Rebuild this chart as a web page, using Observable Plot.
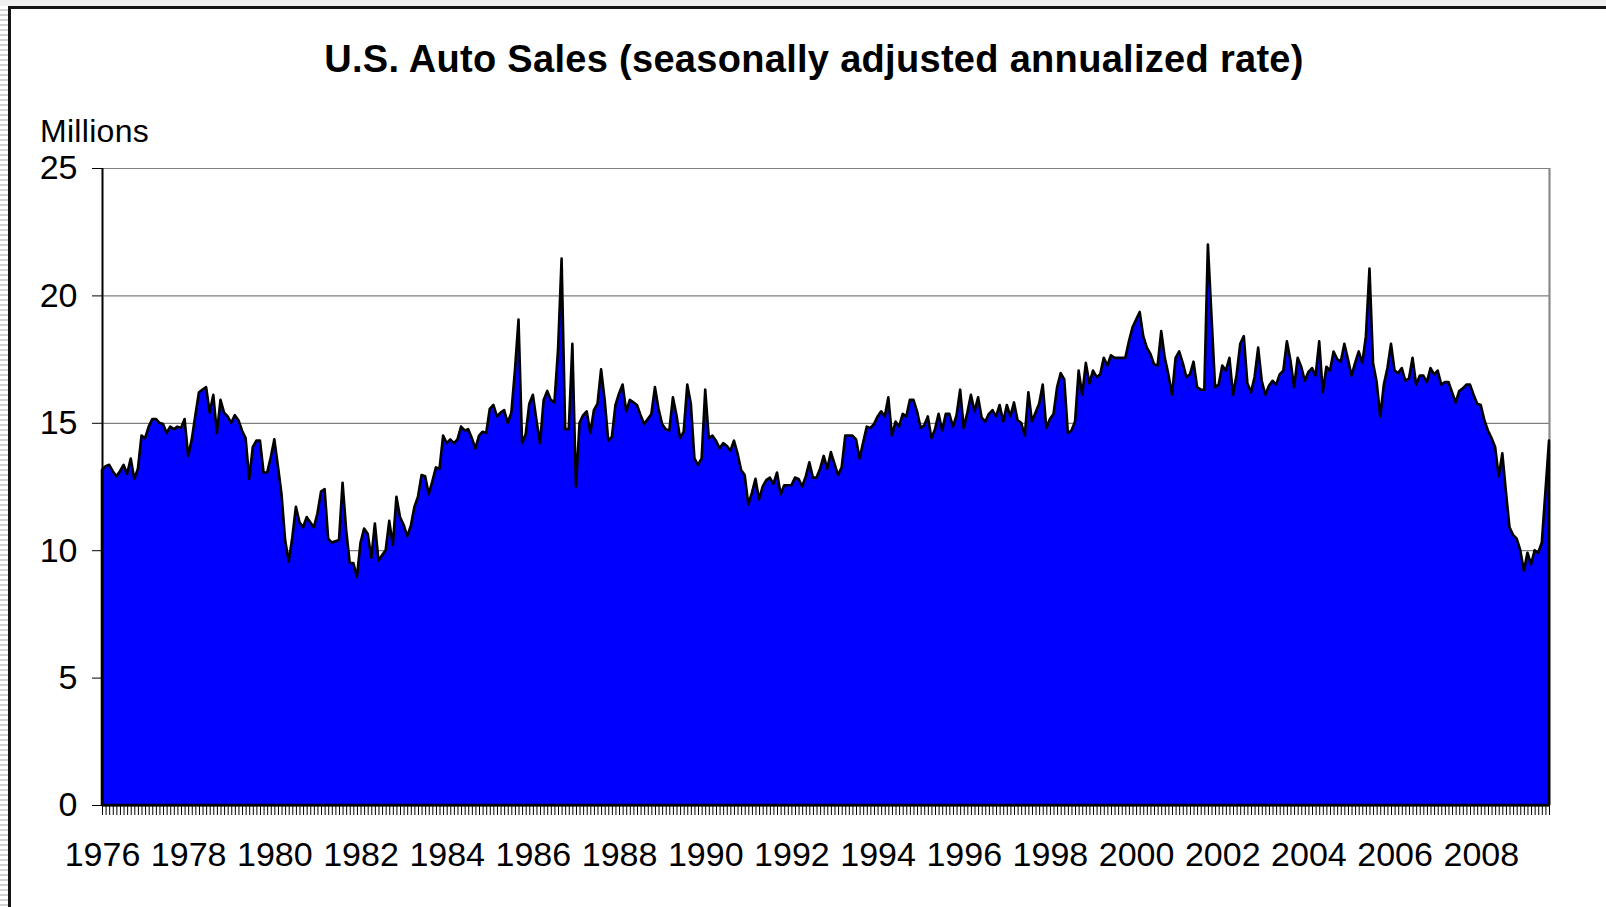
<!DOCTYPE html>
<html>
<head>
<meta charset="utf-8">
<script src="https://cdn.jsdelivr.net/npm/d3@7"></script>
<script src="https://cdn.jsdelivr.net/npm/@observablehq/plot@0.6"></script>
<style>
  html, body { margin: 0; padding: 0; background: #ffffff; }
  #wrap { position: relative; width: 1606px; height: 907px; overflow: hidden; font-family: "Liberation Sans", Arial, sans-serif; color: #000; }
  #chart { position: absolute; left: 0; top: 0; }
  #title { position: absolute; left: 0; width: 1628px; top: 40px; text-align: center; font-weight: bold; font-size: 38px; line-height: 38px; letter-spacing: 0.3px; white-space: nowrap; }
  #unit { position: absolute; left: 40px; top: 115px; font-size: 32px; line-height: 32px; letter-spacing: 0.3px; white-space: nowrap; }
  #topstrip { position: absolute; left: 0; top: 0; width: 1606px; height: 6px; background: #efefef; }
  #leftstrip { position: absolute; left: 0; top: 6px; width: 8px; height: 901px;
    background: repeating-linear-gradient(to bottom, #ffffff 0px, #ffffff 3px, #d2d2d2 3px, #d2d2d2 5px); }
  #frame { position: absolute; left: 8px; top: 6px; width: 1700px; height: 1000px; border: 3px solid #151515; box-sizing: border-box; pointer-events: none; }
</style>
</head>
<body>
<div id="wrap">
  <div id="chart"></div>
  <div id="topstrip"></div>
  <div id="leftstrip"></div>
  <div id="frame"></div>
  <div id="title"></div>
  <div id="unit"></div>
</div>
<script>
// ---- Chart texts ----
const titleText = "U.S. Auto Sales (seasonally adjusted annualized rate)";
const unitText = "Millions";

// ---- Tick labels ----
const yTicks = [0, 5, 10, 15, 20, 25];
const xLabelYears = [1976, 1978, 1980, 1982, 1984, 1986, 1988, 1990, 1992, 1994, 1996, 1998, 2000, 2002, 2004, 2006, 2008];

// ---- Monthly sales (millions, SAAR), one array per year, Jan..Dec ----
const y1976 = [13.15, 13.3, 13.35, 13.1, 12.9, 13.1, 13.35, 13.0, 13.6, 12.8, 13.2, 14.5];
const y1977 = [14.4, 14.85, 15.15, 15.15, 15.0, 14.95, 14.6, 14.85, 14.75, 14.85, 14.8, 15.15];
const y1978 = [13.7, 14.35, 15.3, 16.2, 16.3, 16.4, 15.4, 16.1, 14.6, 15.9, 15.4, 15.25];
const y1979 = [15.0, 15.3, 15.1, 14.7, 14.4, 12.8, 14.05, 14.3, 14.3, 13.05, 13.05, 13.65];
const y1980 = [14.35, 13.3, 12.2, 10.4, 9.55, 10.5, 11.7, 11.1, 10.9, 11.3, 11.1, 10.9];
const y1981 = [11.45, 12.3, 12.4, 10.45, 10.3, 10.35, 10.4, 12.65, 10.8, 9.5, 9.5, 8.95];
const y1982 = [10.3, 10.85, 10.65, 9.7, 11.05, 9.6, 9.8, 10.0, 11.15, 10.2, 12.1, 11.3];
const y1983 = [11.0, 10.55, 10.95, 11.7, 12.1, 12.95, 12.9, 12.2, 12.7, 13.25, 13.2, 14.5];
const y1984 = [14.2, 14.35, 14.2, 14.35, 14.85, 14.7, 14.75, 14.4, 14.0, 14.5, 14.65, 14.6];
const y1985 = [15.55, 15.7, 15.25, 15.4, 15.5, 15.0, 15.4, 17.05, 19.05, 14.2, 14.55, 15.75];
const y1986 = [16.1, 15.1, 14.2, 15.9, 16.25, 15.9, 15.8, 17.85, 21.45, 14.75, 14.75, 18.1];
const y1987 = [12.5, 15.0, 15.3, 15.45, 14.6, 15.5, 15.75, 17.1, 15.9, 14.3, 14.45, 15.7];
const y1988 = [16.15, 16.5, 15.45, 15.9, 15.8, 15.7, 15.3, 14.95, 15.15, 15.35, 16.4, 15.55];
const y1989 = [14.95, 14.75, 14.7, 16.0, 15.3, 14.4, 14.65, 16.5, 15.75, 13.6, 13.35, 13.6];
const y1990 = [16.3, 14.4, 14.5, 14.3, 14.0, 14.2, 14.1, 13.9, 14.3, 13.8, 13.15, 12.95];
const y1991 = [11.8, 12.25, 12.8, 12.0, 12.5, 12.75, 12.85, 12.6, 13.05, 12.2, 12.55, 12.55];
const y1992 = [12.55, 12.85, 12.8, 12.5, 12.9, 13.45, 12.85, 12.85, 13.2, 13.7, 13.2, 13.85];
const y1993 = [13.4, 12.95, 13.25, 14.5, 14.5, 14.5, 14.35, 13.6, 14.25, 14.85, 14.8, 14.95];
const y1994 = [15.25, 15.45, 15.25, 16.0, 14.5, 15.05, 14.85, 15.35, 15.25, 15.9, 15.9, 15.45];
const y1995 = [14.8, 14.9, 15.25, 14.4, 14.75, 15.35, 14.7, 15.35, 15.35, 14.85, 15.3, 16.3];
const y1996 = [14.8, 15.4, 16.1, 15.45, 16.0, 15.2, 15.05, 15.35, 15.5, 15.25, 15.7, 15.05];
const y1997 = [15.7, 15.25, 15.8, 15.1, 15.0, 14.5, 16.2, 15.05, 15.4, 15.75, 16.5, 14.8];
const y1998 = [15.15, 15.35, 16.4, 16.95, 16.7, 14.6, 14.7, 15.05, 17.05, 16.1, 17.35, 16.55];
const y1999 = [17.05, 16.8, 16.9, 17.55, 17.25, 17.65, 17.55, 17.55, 17.55, 17.55, 18.2, 18.75];
const y2000 = [19.05, 19.35, 18.4, 17.95, 17.7, 17.3, 17.25, 18.6, 17.55, 16.9, 16.1, 17.55];
const y2001 = [17.8, 17.35, 16.8, 16.9, 17.4, 16.4, 16.3, 16.3, 22.0, 19.2, 16.4, 16.5];
const y2002 = [17.25, 17.05, 17.55, 16.1, 16.9, 18.1, 18.4, 16.55, 16.2, 16.8, 17.95, 16.65];
const y2003 = [16.1, 16.45, 16.65, 16.5, 16.9, 17.05, 18.2, 17.45, 16.4, 17.55, 17.2, 16.65];
const y2004 = [17.0, 17.15, 16.85, 18.2, 16.2, 17.2, 17.05, 17.8, 17.5, 17.4, 18.1, 17.5];
const y2005 = [16.85, 17.35, 17.8, 17.35, 18.4, 21.05, 17.35, 16.6, 15.25, 16.5, 17.15, 18.1];
const y2006 = [17.05, 16.95, 17.15, 16.65, 16.75, 17.55, 16.5, 16.85, 16.85, 16.6, 17.15, 16.9];
const y2007 = [17.05, 16.5, 16.6, 16.6, 16.2, 15.8, 16.25, 16.35, 16.5, 16.5, 16.1, 15.75];
const y2008 = [15.7, 15.1, 14.7, 14.4, 14.05, 12.9, 13.8, 12.3, 10.9, 10.6, 10.45, 10.0];
const y2009 = [9.2, 9.9, 9.45, 10.0, 9.9, 10.3, 12.3, 14.3];

const firstYear = 1976;
const yearArrays = [y1976, y1977, y1978, y1979, y1980, y1981, y1982, y1983, y1984, y1985,
  y1986, y1987, y1988, y1989, y1990, y1991, y1992, y1993, y1994, y1995, y1996, y1997,
  y1998, y1999, y2000, y2001, y2002, y2003, y2004, y2005, y2006, y2007, y2008, y2009];

// table for the library: decimal time (year + month/12) and value
const data = yearArrays.flatMap((arr, k) => arr.map((v, m) => ({t: firstYear + k + m / 12, v})));
const monthTicks = data.map(d => d.t);
const tStart = data[0].t;
const tEnd = data[data.length - 1].t;

document.getElementById("title").textContent = titleText;
document.getElementById("unit").textContent = unitText;

const chart = Plot.plot({
  width: 1606,
  height: 907,
  marginLeft: 102,
  marginRight: 57,
  marginTop: 168,
  marginBottom: 102,
  style: {background: "transparent", fontFamily: "'Liberation Sans', Arial, sans-serif", fontSize: "34px", color: "#000", overflow: "visible"},
  x: {type: "linear", domain: [tStart, tEnd], axis: null},
  y: {type: "linear", domain: [0, 25], axis: null},
  marks: [
    Plot.gridY(yTicks, {stroke: "#808080", strokeOpacity: 1, strokeWidth: 1.2}),
    Plot.ruleX([tEnd], {stroke: "#8a8a8a", strokeWidth: 2.2}),
    Plot.areaY(data, {x: "t", y: "v", fill: "#0000ff", stroke: "#000000", strokeWidth: 2.6, strokeLinejoin: "round"}),
    Plot.ruleX([tStart], {stroke: "#000", strokeWidth: 2}),
    Plot.ruleY([0], {stroke: "#000", strokeWidth: 2}),
    Plot.axisY({ticks: yTicks, tickSize: 10, tickPadding: 15, tickFormat: d => String(d), fontSize: 34, stroke: "#000", fill: "#000", label: null}),
    Plot.axisX({ticks: monthTicks, tickSize: 10, stroke: "#000", strokeWidth: 1, fill: "none", label: null}),
    Plot.axisX({ticks: xLabelYears, tickSize: 0, tickPadding: 36, tickFormat: d => String(d), fontSize: 34, fill: "#000", label: null})
  ]
});
document.getElementById("chart").appendChild(chart);
</script>
</body>
</html>
